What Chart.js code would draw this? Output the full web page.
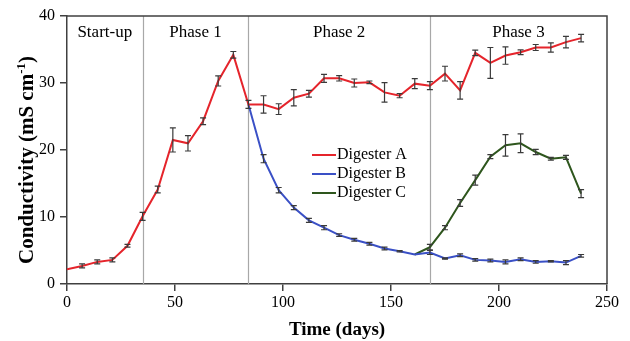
<!DOCTYPE html>
<html><head><meta charset="utf-8">
<script src="https://cdn.jsdelivr.net/npm/chart.js@4/dist/chart.umd.min.js"></script>
<style>html,body{margin:0;padding:0;background:#fff;}</style>
</head><body>
<canvas id="c" width="630" height="341"></canvas>
<script>
// ---- data ----
const seriesNames = ['Digester A', 'Digester B', 'Digester C'];
const daysA = [0,7,14,21,28,35,42,49,56,63,70,77,84,91,98,105,112,119,126,133,140,147,154,161,168,175,182,189,196,203,210,217,224,231,238];
const valuesA = [2.2,2.7,3.3,3.6,5.7,10.1,14.1,21.5,21.0,24.3,30.3,34.2,26.8,26.8,26.1,27.8,28.4,30.7,30.7,30.0,30.1,28.6,28.1,29.9,29.6,31.4,28.9,34.5,33.0,34.1,34.6,35.3,35.3,36.1,36.7];
const errorsA = [0,0.3,0.3,0.3,0.2,0.6,0.5,1.8,1.15,0.5,0.75,0.5,0.6,1.3,0.8,1.2,0.5,0.6,0.4,0.6,0.2,1.45,0.3,0.75,0.6,1.1,1.3,0.4,2.3,1.3,0.35,0.45,0.7,0.85,0.55];
const daysB = [84,91,98,105,112,119,126,133,140,147,154,161,168,175,182,189,196,203,210,217,224,231,238];
const valuesB = [26.8,18.7,14.0,11.4,9.5,8.4,7.3,6.6,6.0,5.3,4.9,4.4,4.7,3.8,4.3,3.6,3.5,3.3,3.7,3.3,3.4,3.2,4.2];
const errorsB = [0,0.6,0.4,0.3,0.3,0.3,0.2,0.2,0.2,0.2,0.1,0,0.3,0.1,0.2,0.2,0.2,0.3,0.2,0.2,0.1,0.3,0.2];
const daysC = [161,168,175,182,189,196,203,210,217,224,231,238];
const valuesC = [4.4,5.5,8.4,12.1,15.5,19.0,20.7,21.0,19.7,18.7,18.9,13.5];
const errorsC = [0,0.4,0.3,0.5,0.75,0.3,1.6,1.4,0.4,0.2,0.3,0.6];
const phaseBoundaries = [0, 35, 84, 168, 250];
const phaseLabels = ['Start-up', 'Phase 1', 'Phase 2', 'Phase 3'];
const xTicks = [0, 50, 100, 150, 200, 250];
const yTicks = [0, 10, 20, 30, 40];
const yTitleMain = 'Conductivity (mS cm';
const yTitleSup = '-1';
const yTitleEnd = ')';

const colors = ['#e5242b', '#3a50c6', '#2e561d'];
const FONT = '"Liberation Serif", "Times New Roman", serif';

function pts(d, v) { return d.map((x, i) => ({x: x, y: v[i]})); }
const errs = [errorsA, errorsB, errorsC];

const overlay = {
  id: 'overlay',
  beforeDatasetsDraw(chart) {
    const {ctx, chartArea: a, scales: {x}} = chart;
    ctx.save();
    ctx.strokeStyle = '#a8a8a8';
    ctx.lineWidth = 1.2;
    phaseBoundaries.slice(1, -1).forEach(d => {
      const px = Math.round(x.getPixelForValue(d)) + 0.5;
      ctx.beginPath(); ctx.moveTo(px, a.top); ctx.lineTo(px, a.bottom); ctx.stroke();
    });
    ctx.fillStyle = '#000';
    ctx.font = '17px ' + FONT;
    ctx.textAlign = 'center';
    ctx.textBaseline = 'middle';
    phaseLabels.forEach((t, i) => {
      const mid = (phaseBoundaries[i] + phaseBoundaries[i + 1]) / 2;
      ctx.fillText(t, x.getPixelForValue(mid), a.top + 17);
    });
    ctx.restore();
  },
  afterDatasetsDraw(chart) {
    const {ctx, chartArea: a, scales: {x, y}} = chart;
    ctx.save();
    // error bars
    ctx.strokeStyle = '#3a3a3a';
    ctx.lineWidth = 1.2;
    chart.data.datasets.forEach((ds, k) => {
      ds.data.forEach((p, i) => {
        const e = errs[k][i];
        if (!e) return;
        const px = x.getPixelForValue(p.x);
        const y1 = y.getPixelForValue(p.y + e);
        const y2 = y.getPixelForValue(p.y - e);
        ctx.beginPath();
        ctx.moveTo(px, y1); ctx.lineTo(px, y2);
        ctx.moveTo(px - 3, y1); ctx.lineTo(px + 3, y1);
        ctx.moveTo(px - 3, y2); ctx.lineTo(px + 3, y2);
        ctx.stroke();
      });
    });
    // top and right frame
    ctx.strokeStyle = '#404040';
    ctx.lineWidth = 1.5;
    ctx.beginPath();
    ctx.moveTo(a.left, a.top); ctx.lineTo(a.right, a.top); ctx.lineTo(a.right, a.bottom);
    ctx.stroke();
    // legend
    ctx.font = '16px ' + FONT;
    ctx.textAlign = 'left';
    ctx.textBaseline = 'middle';
    const lx = a.left + 245, ly = a.top + 139;
    chart.data.datasets.forEach((ds, k) => {
      const yy = ly + k * 19;
      ctx.strokeStyle = ds.borderColor;
      ctx.lineWidth = 2;
      ctx.beginPath(); ctx.moveTo(lx, yy); ctx.lineTo(lx + 24, yy); ctx.stroke();
      ctx.fillStyle = '#000';
      ctx.fillText(ds.label, lx + 25, yy);
    });
    // y axis title with superscript
    const mainFont = 'bold 21px ' + FONT, supFont = 'bold 13px ' + FONT;
    ctx.font = mainFont; const w1 = ctx.measureText(yTitleMain).width; const w3 = ctx.measureText(yTitleEnd).width;
    ctx.font = supFont; const w2 = ctx.measureText(yTitleSup).width;
    const total = w1 + w2 + w3;
    ctx.translate(26, (a.top + a.bottom) / 2 + 10);
    ctx.rotate(-Math.PI / 2);
    ctx.textBaseline = 'alphabetic';
    let sx = -total / 2;
    const base = 7;
    ctx.fillStyle = '#000';
    ctx.font = mainFont; ctx.fillText(yTitleMain, sx, base); sx += w1;
    ctx.font = supFont; ctx.fillText(yTitleSup, sx, base - 8); sx += w2;
    ctx.font = mainFont; ctx.fillText(yTitleEnd, sx, base);
    ctx.restore();
  }
};

new Chart(document.getElementById('c'), {
  type: 'line',
  data: {
    datasets: [
      {label: seriesNames[0], data: pts(daysA, valuesA), borderColor: colors[0], backgroundColor: colors[0]},
      {label: seriesNames[1], data: pts(daysB, valuesB), borderColor: colors[1], backgroundColor: colors[1]},
      {label: seriesNames[2], data: pts(daysC, valuesC), borderColor: colors[2], backgroundColor: colors[2]}
    ]
  },
  options: {
    responsive: false,
    animation: false,
    layout: {padding: {top: 16, right: 23, left: 0, bottom: 0}},
    elements: {point: {radius: 0}, line: {borderWidth: 2, tension: 0}},
    plugins: {legend: {display: false}, tooltip: {enabled: false}},
    scales: {
      x: {
        type: 'linear', min: 0, max: 250,
        afterBuildTicks: s => { s.ticks = xTicks.map(v => ({value: v})); },
        afterFit: s => { s.height = 57; },
        ticks: {font: {family: FONT, size: 16}, color: '#000', padding: 2, maxRotation: 0},
        grid: {display: true, drawOnChartArea: false, tickLength: 7, color: '#404040', lineWidth: 1.5},
        border: {color: '#404040', width: 1.5},
        title: {display: true, text: 'Time (days)', font: {family: FONT, size: 19, weight: 'bold'}, color: '#000', padding: {top: 2, bottom: 0}}
      },
      y: {
        min: 0, max: 40,
        afterBuildTicks: s => { s.ticks = yTicks.map(v => ({value: v})); },
        afterFit: s => { s.width = 67; },
        ticks: {font: {family: FONT, size: 16}, color: '#000', padding: 5},
        grid: {display: true, drawOnChartArea: false, tickLength: 7, color: '#404040', lineWidth: 1.5},
        border: {color: '#404040', width: 1.5},
        title: {display: false}
      }
    }
  },
  plugins: [overlay]
});
</script>
</body></html>
